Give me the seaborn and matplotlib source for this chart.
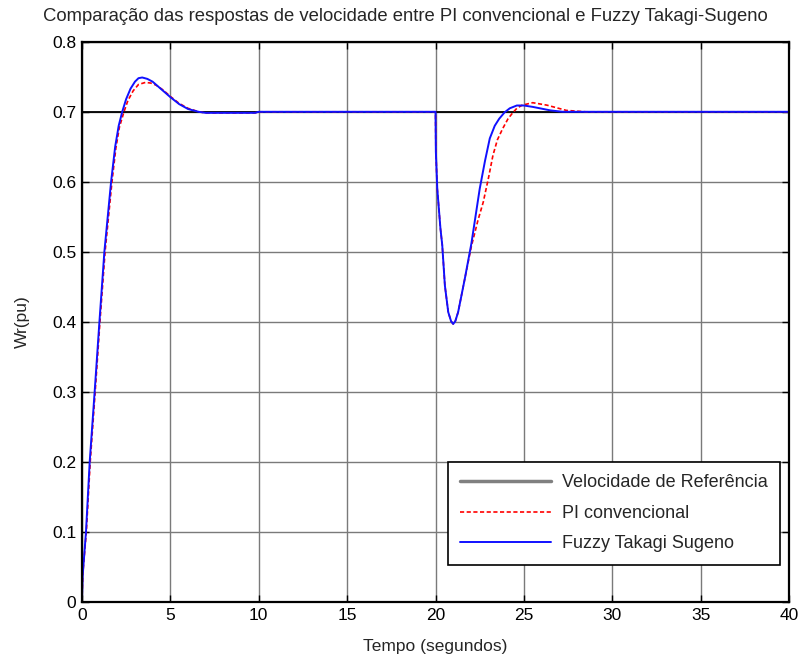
import numpy as np
import pandas as pd
import matplotlib
matplotlib.use("Agg")
import matplotlib.pyplot as plt
import seaborn as sns
from matplotlib.lines import Line2D

# Reference speed (pu)
t_ref = [0, 40]
w_ref = [0.7, 0.7]

# Conventional PI response
t_pi = [0, 0.05, 0.25, 0.47, 0.75, 1.02, 1.31, 1.70, 1.92, 2.12, 2.38, 2.6, 2.9, 3.2, 3.6, 3.9, 4.2,
        4.6, 5.0, 5.5, 6.0, 6.6, 7.0, 9.8, 10.0, 20.0, 20.02, 20.1, 20.28, 20.38, 20.53, 20.72, 20.88,
        21.0, 21.12, 21.28, 21.66, 22.03, 22.4, 22.7, 23.0, 23.25, 23.5, 23.8, 24.1, 24.35, 24.6, 24.9,
        25.5, 26.3, 27.4, 28.5, 40]
w_pi = [0, 0.04, 0.1, 0.2, 0.3, 0.4, 0.5, 0.6, 0.648, 0.678, 0.700, 0.716, 0.730, 0.739, 0.742, 0.741,
        0.738, 0.731, 0.722, 0.712, 0.705, 0.700, 0.6985, 0.6985, 0.700, 0.700, 0.643, 0.590, 0.533, 0.510,
        0.452, 0.414, 0.401, 0.397, 0.401, 0.414, 0.462, 0.508, 0.545, 0.571, 0.606, 0.638, 0.660, 0.676,
        0.690, 0.698, 0.705, 0.7095, 0.713, 0.7095, 0.702, 0.700, 0.700]

# Fuzzy Takagi-Sugeno response
t_fz = [0, 0.05, 0.23, 0.44, 0.72, 0.99, 1.27, 1.65, 1.88, 2.08, 2.28, 2.5, 2.75, 3.0, 3.2, 3.41, 3.7,
        4.0, 4.5, 5.0, 5.5, 6.0, 6.6, 7.0, 9.8, 10.0, 20.0, 20.02, 20.1, 20.28, 20.38, 20.53, 20.72, 20.88,
        21.0, 21.12, 21.28, 21.66, 22.03, 22.5, 22.8, 23.07, 23.35, 23.6, 23.9, 24.2, 24.6, 25.0, 25.5,
        26.5, 27.2, 40]
w_fz = [0, 0.04, 0.1, 0.2, 0.3, 0.4, 0.5, 0.6, 0.650, 0.680, 0.700, 0.718, 0.733, 0.743, 0.748, 0.749,
        0.747, 0.743, 0.732, 0.721, 0.711, 0.704, 0.700, 0.6985, 0.6985, 0.700, 0.700, 0.643, 0.590, 0.533,
        0.510, 0.452, 0.414, 0.401, 0.397, 0.401, 0.414, 0.462, 0.512, 0.590, 0.630, 0.662, 0.680, 0.690,
        0.699, 0.705, 0.709, 0.709, 0.707, 0.702, 0.700, 0.700]

sns.set_theme(style="white")
plt.rcParams['font.family'] = ['Liberation Sans', 'DejaVu Sans']

fig = plt.figure(figsize=(8.11, 6.63), dpi=100)
ax = fig.add_axes([0.101, 0.092, 0.872, 0.845])

ref_df = pd.DataFrame({'t': t_ref, 'w': w_ref})
pi_df = pd.DataFrame({'t': t_pi, 'w': w_pi})
fz_df = pd.DataFrame({'t': t_fz, 'w': w_fz})

sns.lineplot(data=ref_df, x='t', y='w', ax=ax, color='black', linewidth=1.3, estimator=None)
sns.lineplot(data=pi_df, x='t', y='w', ax=ax, color='red', linewidth=1.2, linestyle=(0, (2.5, 1.5)),
             estimator=None, sort=False)
sns.lineplot(data=fz_df, x='t', y='w', ax=ax, color='#1010ff', linewidth=1.4, estimator=None, sort=False)

ax.set_xlim(0, 40)
ax.set_ylim(0, 0.8)
ax.set_xticks(np.arange(0, 41, 5))
ax.set_yticks(np.arange(0, 0.81, 0.1))
ax.set_yticklabels(['0', '0.1', '0.2', '0.3', '0.4', '0.5', '0.6', '0.7', '0.8'])
ax.grid(True, color='#7a7a7a', linewidth=1.0, linestyle='-')
ax.set_axisbelow(True)
ax.tick_params(direction='in', length=5, width=1, colors='black', labelsize=12.5, pad=4,
               top=True, right=True, bottom=True, left=True)
for s in ax.spines.values():
    s.set_color('black')
    s.set_linewidth(1.6)

ax.set_xlabel('Tempo (segundos)', fontsize=12.5, labelpad=12)
ax.set_ylabel('Wr(pu)', fontsize=12.5, labelpad=16)
fig.text(0.5, 0.975, 'Comparação das respostas de velocidade entre PI convencional e Fuzzy Takagi-Sugeno',
         ha='center', va='center', fontsize=13.3)

handles = [
    Line2D([], [], color='#808080', linewidth=2.5),
    Line2D([], [], color='red', linewidth=1.2, linestyle=(0, (2.5, 1.5))),
    Line2D([], [], color='#1010ff', linewidth=1.4),
]
labels = ['Velocidade de Referência', 'PI convencional', 'Fuzzy Takagi Sugeno']
leg = ax.legend(handles, labels, loc='lower right', bbox_to_anchor=(0.987, 0.066), fontsize=13,
                frameon=True, fancybox=False, edgecolor='black', framealpha=1, borderaxespad=0,
                handlelength=5.0, borderpad=0.7, labelspacing=0.75, handletextpad=0.6)
leg.get_frame().set_linewidth(1.2)

fig.savefig('out.png', dpi=100)
